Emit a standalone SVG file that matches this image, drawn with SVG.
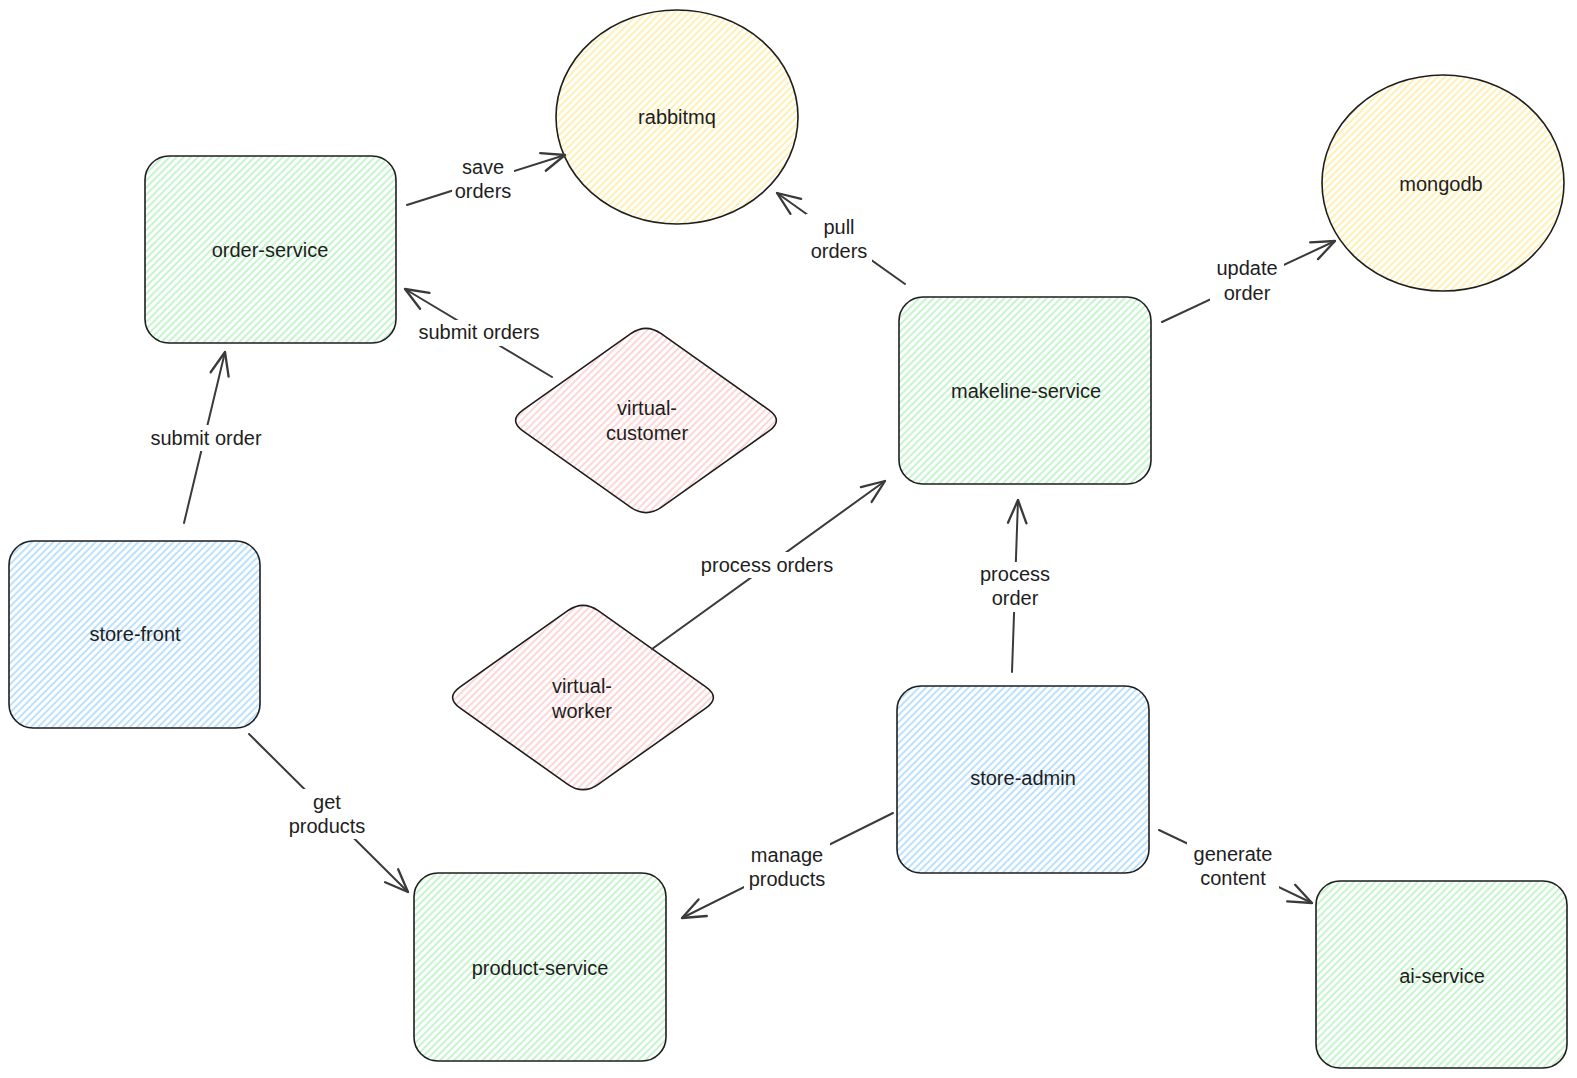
<svg xmlns="http://www.w3.org/2000/svg" width="1577" height="1078" viewBox="0 0 1577 1078">
<style>
.n{stroke:#1e1e1e;stroke-width:1.6}
.t{font-family:"Liberation Sans",Arial,sans-serif;font-size:20px;fill:#1e1e1e;text-anchor:middle}
.c{stroke:#3a3a3a;stroke-width:2;fill:none;stroke-linecap:round}
.gap{fill:#ffffff;stroke:none}
</style>
<defs>
<pattern id="hg" width="5" height="5" patternUnits="userSpaceOnUse" patternTransform="rotate(45)"><rect width="5" height="5" fill="#ffffff"/><line x1="1" y1="0" x2="1" y2="5" stroke="#b2f2bb" stroke-width="1.5"/></pattern>
<pattern id="hb" width="5" height="5" patternUnits="userSpaceOnUse" patternTransform="rotate(45)"><rect width="5" height="5" fill="#ffffff"/><line x1="1" y1="0" x2="1" y2="5" stroke="#a5d8ff" stroke-width="1.5"/></pattern>
<pattern id="hy" width="5" height="5" patternUnits="userSpaceOnUse" patternTransform="rotate(45)"><rect width="5" height="5" fill="#ffffff"/><line x1="1" y1="0" x2="1" y2="5" stroke="#ffec99" stroke-width="1.5"/></pattern>
<pattern id="hr" width="5" height="5" patternUnits="userSpaceOnUse" patternTransform="rotate(45)"><rect width="5" height="5" fill="#ffffff"/><line x1="1" y1="0" x2="1" y2="5" stroke="#ffc9c9" stroke-width="1.5"/></pattern>
<marker id="ah" markerUnits="userSpaceOnUse" markerWidth="30" markerHeight="30" refX="0" refY="0" viewBox="-22 -12 26 24" orient="auto" overflow="visible">
<path d="M -20 -8 L 0 0 L -20 8" fill="none" stroke="#3a3a3a" stroke-width="2" stroke-linecap="round" stroke-linejoin="round"/>
</marker>
</defs>
<rect width="1577" height="1078" fill="#ffffff"/>

<g id="order-service">
<rect class="n" x="145" y="156" width="251" height="187" rx="24" fill="url(#hg)"/>
<text class="t" x="270" y="250" dy=".35em">order-service</text>
</g>
<g id="rabbitmq">
<ellipse class="n" cx="677" cy="117" rx="121" ry="107" fill="url(#hy)"/>
<text class="t" x="677" y="117" dy=".35em">rabbitmq</text>
</g>
<g id="mongodb">
<ellipse class="n" cx="1443" cy="183" rx="121" ry="108" fill="url(#hy)"/>
<text class="t" x="1441" y="184" dy=".35em">mongodb</text>
</g>
<g id="makeline-service">
<rect class="n" x="899" y="297" width="252" height="187" rx="24" fill="url(#hg)"/>
<text class="t" x="1026" y="391" dy=".35em">makeline-service</text>
</g>
<g id="virtual-customer">
<path class="n" fill="url(#hr)" d="M 630.8 333.7 Q 646 323 661.2 333.7 L 768.8 409.8 Q 784 420.5 768.8 431.2 L 661.2 507.3 Q 646 518 630.8 507.3 L 523.2 431.2 Q 508 420.5 523.2 409.8 Z"/>
<text class="t" x="647" y="408" dy=".35em">virtual-</text>
<text class="t" x="647" y="433" dy=".35em">customer</text>
</g>
<g id="virtual-worker">
<path class="n" fill="url(#hr)" d="M 567.8 610.7 Q 583 600 598.2 610.7 L 705.8 686.8 Q 721 697.5 705.8 708.2 L 598.2 784.3 Q 583 795 567.8 784.3 L 460.2 708.2 Q 445 697.5 460.2 686.8 Z"/>
<text class="t" x="582" y="686" dy=".35em">virtual-</text>
<text class="t" x="582" y="711" dy=".35em">worker</text>
</g>
<g id="store-front">
<rect class="n" x="9" y="541" width="251" height="187" rx="24" fill="url(#hb)"/>
<text class="t" x="135" y="634" dy=".35em">store-front</text>
</g>
<g id="store-admin">
<rect class="n" x="897" y="686" width="252" height="187" rx="24" fill="url(#hb)"/>
<text class="t" x="1023" y="778" dy=".35em">store-admin</text>
</g>
<g id="product-service">
<rect class="n" x="414" y="873" width="252" height="188" rx="24" fill="url(#hg)"/>
<text class="t" x="540" y="968" dy=".35em">product-service</text>
</g>
<g id="ai-service">
<rect class="n" x="1316" y="881" width="251" height="187" rx="24" fill="url(#hg)"/>
<text class="t" x="1442" y="976" dy=".35em">ai-service</text>
</g>

<g id="connectors">
<line class="c" x1="407" y1="205" x2="565" y2="155" marker-end="url(#ah)"/>
<rect class="gap" x="452" y="155" width="62" height="50"/>
<text class="t" x="483" y="167" dy=".35em">save</text>
<text class="t" x="483" y="191" dy=".35em">orders</text>

<line class="c" x1="552" y1="377" x2="405" y2="289" marker-end="url(#ah)"/>
<rect class="gap" x="410" y="320" width="138" height="26"/>
<text class="t" x="479" y="332" dy=".35em">submit orders</text>

<line class="c" x1="184" y1="523" x2="225" y2="352" marker-end="url(#ah)"/>
<rect class="gap" x="142" y="425" width="128" height="26"/>
<text class="t" x="206" y="438" dy=".35em">submit order</text>

<line class="c" x1="905" y1="284" x2="777" y2="193" marker-end="url(#ah)"/>
<rect class="gap" x="806" y="214" width="66" height="50"/>
<text class="t" x="839" y="227" dy=".35em">pull</text>
<text class="t" x="839" y="251" dy=".35em">orders</text>

<line class="c" x1="1162" y1="322" x2="1335" y2="241" marker-end="url(#ah)"/>
<rect class="gap" x="1210" y="256" width="74" height="50"/>
<text class="t" x="1247" y="268" dy=".35em">update</text>
<text class="t" x="1247" y="293" dy=".35em">order</text>

<line class="c" x1="652" y1="649" x2="885" y2="481" marker-end="url(#ah)"/>
<rect class="gap" x="694" y="552" width="146" height="26"/>
<text class="t" x="767" y="565" dy=".35em">process orders</text>

<line class="c" x1="1012" y1="672" x2="1018" y2="500" marker-end="url(#ah)"/>
<rect class="gap" x="976" y="562" width="78" height="50"/>
<text class="t" x="1015" y="574" dy=".35em">process</text>
<text class="t" x="1015" y="598" dy=".35em">order</text>

<line class="c" x1="249" y1="734" x2="408" y2="892" marker-end="url(#ah)"/>
<rect class="gap" x="286" y="789" width="82" height="50"/>
<text class="t" x="327" y="802" dy=".35em">get</text>
<text class="t" x="327" y="826" dy=".35em">products</text>

<line class="c" x1="893" y1="813" x2="682" y2="918" marker-end="url(#ah)"/>
<rect class="gap" x="744" y="842" width="86" height="50"/>
<text class="t" x="787" y="855" dy=".35em">manage</text>
<text class="t" x="787" y="879" dy=".35em">products</text>

<line class="c" x1="1159" y1="830" x2="1312" y2="903" marker-end="url(#ah)"/>
<rect class="gap" x="1187" y="841" width="92" height="50"/>
<text class="t" x="1233" y="854" dy=".35em">generate</text>
<text class="t" x="1233" y="878" dy=".35em">content</text>
</g>
</svg>
